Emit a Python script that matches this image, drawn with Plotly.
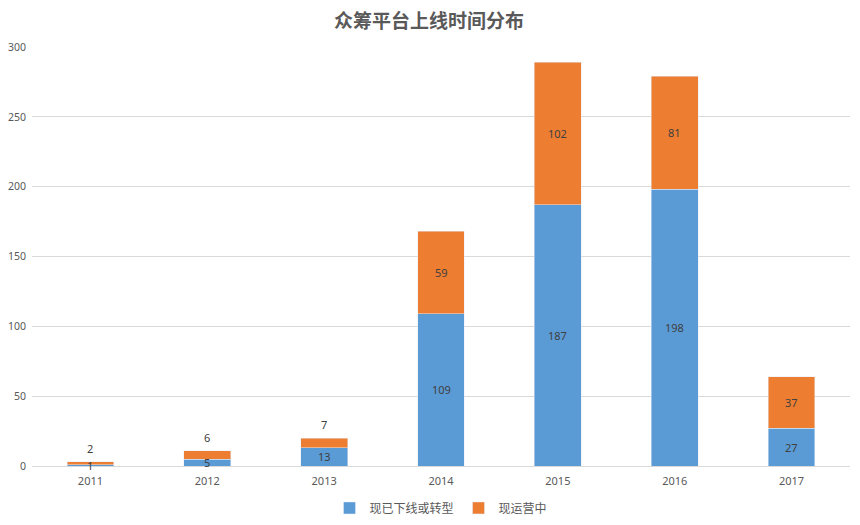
import plotly.graph_objects as go

years = ["2011", "2012", "2013", "2014", "2015", "2016", "2017"]
offline = [1, 5, 13, 109, 187, 198, 27]
operating = [2, 6, 7, 59, 102, 81, 37]

font = "'Noto Sans', 'Noto Sans CJK SC', sans-serif"
cjk = "'Noto Sans CJK SC', sans-serif"
grey = "#595959"
label_font = dict(size=11, color="#404040", family=font)

fig = go.Figure()
fig.add_trace(go.Bar(x=years, y=offline, name="现已下线或转型", marker_color="#5B9BD5"))
fig.add_trace(go.Bar(x=years, y=operating, name="现运营中", marker_color="#ED7D31"))

# data labels: centered in segments, small ones above the bar
# (x given as category index, numeric-looking strings confuse annotations)
for i, (a, b) in enumerate(zip(offline, operating)):
    fig.add_annotation(x=i, y=a / 2, text=str(a), showarrow=False, font=label_font)
    if a + b < 40:
        fig.add_annotation(x=i, y=a + b, text=str(b), showarrow=False, yanchor="bottom",
                           yshift=4, font=label_font)
    else:
        fig.add_annotation(x=i, y=a + b / 2, text=str(b), showarrow=False, font=label_font)

# page body has an 8px margin, so the figure is 8px smaller than the window
fig.update_layout(
    barmode="stack",
    bargap=0.6,
    width=852, height=517,
    margin=dict(l=24, r=10, t=39, b=59),
    paper_bgcolor="white", plot_bgcolor="white",
    font=dict(family=font, size=11, color=grey),
    title=dict(text="<b>众筹平台上线时间分布</b>", x=0.494, xanchor="center",
               y=0.974, yanchor="middle", yref="container", automargin=False,
               font=dict(size=19, color=grey, family=cjk)),
    legend=dict(orientation="h", x=0.5, xanchor="center", y=0.033, yanchor="middle",
                yref="container",
                font=dict(size=12, color=grey, family=cjk),
                itemwidth=30, traceorder="normal"),
    showlegend=True,
)
fig.update_yaxes(range=[0, 300], dtick=50, showgrid=True, gridcolor="#D9D9D9",
                 zeroline=False, ticks="", ticklabelstandoff=5, automargin=False,
                 tickfont=dict(size=10.5, color=grey))
fig.update_xaxes(type="category", showline=True, linecolor="#D9D9D9", ticks="",
                 ticklabelstandoff=5, automargin=False, tickfont=dict(size=11, color=grey))

fig.write_html("out.html")
